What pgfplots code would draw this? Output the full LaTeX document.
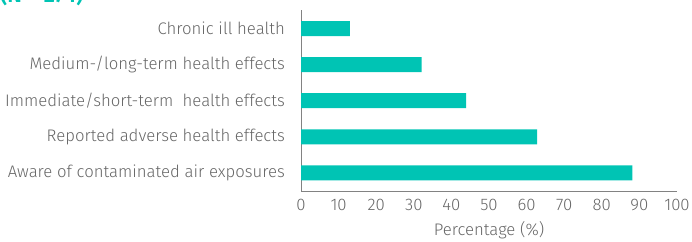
\documentclass[border=0pt]{standalone}
\usepackage{pgfplots}
\pgfplotsset{compat=1.18}
\usepackage{fontspec}
\setmainfont{Fira Sans}[UprightFont=* Light, BoldFont=* SemiBold]
\definecolor{barteal}{RGB}{0,196,180}
\definecolor{txt}{RGB}{102,102,102}
\definecolor{axgray}{RGB}{130,130,130}
\begin{document}
\begin{tikzpicture}
\useasboundingbox (0,0) rectangle (692bp,242bp);
\node[overlay, anchor=base west, text=barteal, font=\bfseries\fontsize{22}{24}\selectfont, inner sep=0] at (0bp,239bp) {(N = 274)};
\begin{axis}[
  at={(301bp,51bp)}, anchor=south west,
  scale only axis, width=376bp, height=180.5bp,
  xbar, bar width=15bp,
  xmin=0, xmax=100, ymin=-0.5, ymax=4.5,
  axis x line*=bottom, axis y line*=left,
  axis line style={axgray, line width=1bp},
  xtick={0,10,...,100}, ytick={0,1,2,3,4},
  yticklabels={Aware of contaminated air exposures, Reported adverse health effects, Immediate/short-term\ \ health effects, Medium-/long-term health effects, Chronic ill health},
  major tick length=0pt,
  tick label style={text=txt, font=\fontsize{16.8}{18}\selectfont},
  /pgf/number format/assume math mode=true,
  y tick label style={inner sep=0pt, anchor=east, xshift=-16bp},
  x tick label style={inner sep=0pt, anchor=north, yshift=-8bp},
  xlabel={Percentage (\%)},
  xlabel style={text=txt, font=\fontsize{16.8}{18}\selectfont, at={(axis description cs:0.5,0)}, anchor=north, inner sep=0pt, yshift=-30bp},
]
\addplot[fill=barteal, draw=none] coordinates {(88.1,0) (62.8,1) (43.9,2) (32.1,3) (13.0,4)};
\end{axis}
\end{tikzpicture}
\end{document}
